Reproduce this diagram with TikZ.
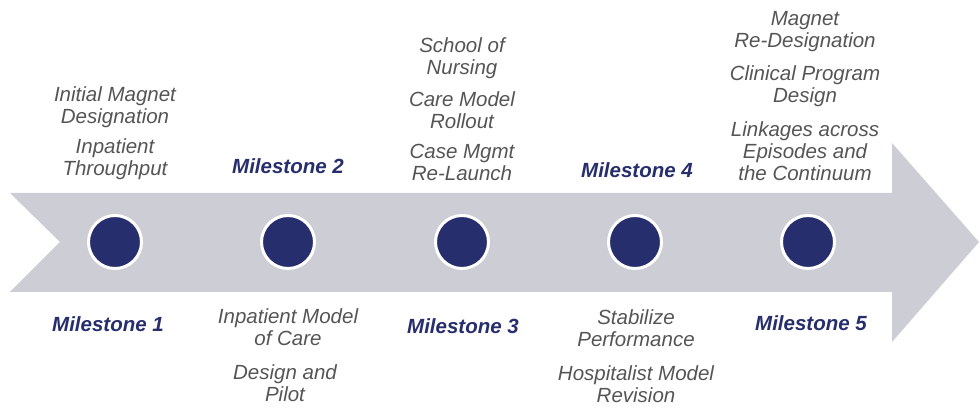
\documentclass[tikz,border=0pt]{standalone}
\usepackage{fontspec}
\setmainfont{Liberation Sans}
\definecolor{msnavy}{HTML}{262E6E}
\definecolor{msgray}{HTML}{CDCDD5}
\definecolor{mstext}{HTML}{555555}

\begin{document}
\begin{tikzpicture}[
    x=1pt, y=1pt,
    item/.style={align=center, inner sep=0pt, text=mstext,
        font=\fontsize{20.5}{22}\selectfont\itshape},
    mstone/.style={inner sep=0pt, text=msnavy,
        font=\fontsize{20.5}{22}\selectfont\bfseries\itshape},
    dot/.style={circle, fill=msnavy, draw=white, line width=3pt, minimum size=53pt}
  ]
    \useasboundingbox (0,0) rectangle (979,415);

    % the big arrow
    \fill[msgray] (10,222) -- (892,222) -- (892,272) -- (979,173)
        -- (892,73) -- (892,123) -- (10,123) -- (60,173) -- cycle;

    % milestone dots
    \foreach \i/\x in {1/115, 2/288, 3/462, 4/635, 5/808}
        \node[dot] (d\i) at (\x,173) {};

    \node[mstone] (m1) at (108,91) {Milestone 1};
    \node[mstone] (m2) at (288,249) {Milestone 2};
    \node[mstone] (m3) at (463,89) {Milestone 3};
    \node[mstone] (m4) at (637,245) {Milestone 4};
    \node[mstone] (m5) at (811,92) {Milestone 5};

    \node[item] (a1) at (115,307.5) {Initial Magnet\\Designation};
    \node[item] (a2) at (115,255.5) {Inpatient\\Throughput};

    \node[item] (b1) at (288,87.5) {Inpatient Model\\of Care};
    \node[item] (b2) at (285,32) {Design and\\Pilot};

    \node[item] (c1) at (462,357) {School of\\Nursing};
    \node[item] (c2) at (462,305) {Care Model\\Rollout};
    \node[item] (c3) at (462,253) {Case Mgmt\\Re-Launch};

    \node[item] (e1) at (636,87) {Stabilize\\Performance};
    \node[item] (e2) at (636,31) {Hospitalist Model\\Revision};

    \node[item] (f1) at (805,383) {Magnet\\Re-Designation};
    \node[item] (f2) at (805,329) {Clinical Program\\Design};
    \node[item] (f3) at (805,264) {Linkages across\\Episodes and\\the Continuum};
\end{tikzpicture}
\end{document}
